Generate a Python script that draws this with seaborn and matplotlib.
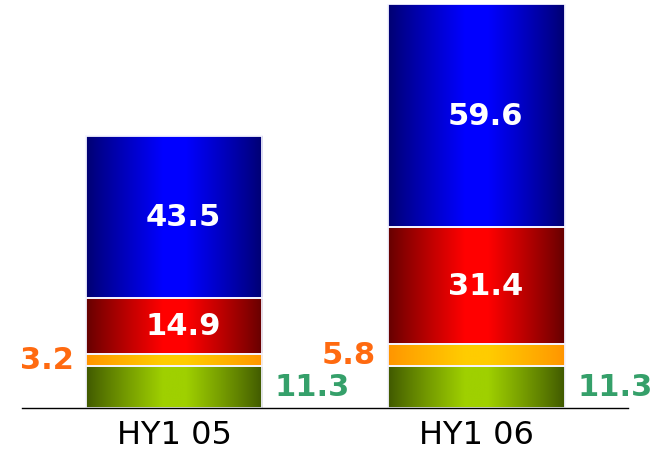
import numpy as np
import pandas as pd
import matplotlib
matplotlib.use("Agg")
import matplotlib.pyplot as plt
import seaborn as sns
from matplotlib.colors import to_rgb

periods = ["HY1 05", "HY1 06"]
green_vals = [11.3, 11.3]
orange_vals = [3.2, 5.8]
red_vals = [14.9, 31.4]
blue_vals = [43.5, 59.6]

sns.set_theme(style="white")
plt.rcParams["font.family"] = ["DejaVu Sans"]

fig = plt.figure(figsize=(6.61, 4.56), dpi=100)
ax = fig.add_axes([22 / 661, 47 / 456, 606 / 661, 404 / 456])

# (name, values, edge colour, centre colour)
segments = [
    ("green", green_vals, "#3f5800", "#9fd000"),
    ("orange", orange_vals, "#ff9400", "#ffcc00"),
    ("red", red_vals, "#640000", "#ff0000"),
    ("blue", blue_vals, "#000070", "#0000ff"),
]

bar_w = 0.585
bottoms = np.zeros(len(periods))
seg_boxes = []
for name, vals, dark, bright in segments:
    df = pd.DataFrame({"period": periods, "value": vals})
    n_before = len(ax.patches)
    sns.barplot(data=df, x="period", y="value", bottom=bottoms, color=bright,
                width=bar_w, ax=ax, order=periods)
    for p in ax.patches[n_before:]:
        seg_boxes.append((p, dark, bright))
    bottoms = bottoms + np.array(vals)

# horizontal shading: dark at the sides, bright in the middle
u = np.linspace(0, 1, 256)
t = 1 - np.abs(2 * u - 1)
t = np.clip(t * 1.15, 0, 1) ** 0.9
for p, dark, bright in seg_boxes:
    d = np.array(to_rgb(dark))
    b = np.array(to_rgb(bright))
    img = d[None, None, :] + (b - d)[None, None, :] * t[None, :, None]
    x0, y0 = p.get_x(), p.get_y()
    w, h = p.get_width(), p.get_height()
    im = ax.imshow(img, extent=[x0, x0 + w, y0, y0 + h], aspect="auto",
                   interpolation="bilinear", zorder=1)
    im.set_clip_path(p)
    p.set_facecolor("none")
    p.set_edgecolor("#f4f4ff")
    p.set_linewidth(1.3)
    p.set_zorder(2)

ax.set_xlim(-0.5025, 1.5008)
ax.set_ylim(0, 108.1)

# value labels
lab = dict(fontsize=22, fontweight="bold", va="center", zorder=3)
for i in range(len(periods)):
    g, o, r, b = green_vals[i], orange_vals[i], red_vals[i], blue_vals[i]
    ax.text(i + 0.03, g + o + r / 2, f"{r:.1f}", ha="center", color="white", **lab)
    ax.text(i + 0.03, g + o + r + b / 2, f"{b:.1f}", ha="center", color="white", **lab)
    ax.text(i - bar_w / 2 - 0.04, g + o / 2, f"{o:.1f}", ha="right",
            color="#ff6a10", **lab)
    ax.text(i + bar_w / 2 + 0.04, g / 2, f"{g:.1f}", ha="left",
            color="#35a06a", **lab)

sns.despine(ax=ax, left=True, top=True, right=True)
ax.spines["bottom"].set_color("black")
ax.spines["bottom"].set_linewidth(1.0)
ax.set_xlabel("")
ax.set_ylabel("")
ax.set_yticks([])
ax.tick_params(axis="x", length=0, pad=8, labelsize=23, labelcolor="black")
ax.grid(False)

fig.savefig("out.png", dpi=100)
